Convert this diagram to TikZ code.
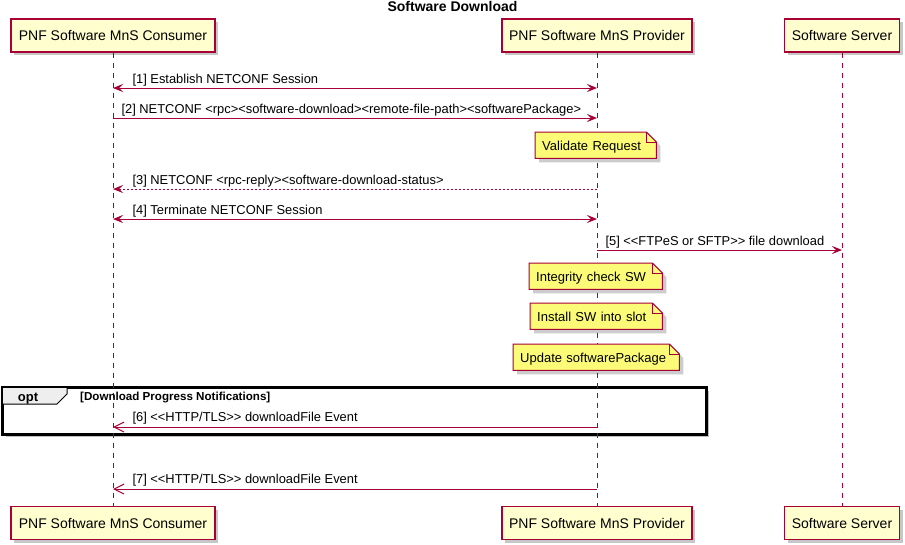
\documentclass[tikz,border=0pt]{standalone}
\usepackage{fontspec}
\newfontfamily\pf{Liberation Sans}
\usetikzlibrary{arrows.meta,shadows}
\definecolor{umlred}{HTML}{A80036}
\definecolor{partfill}{HTML}{FEFECE}
\definecolor{notefill}{HTML}{FBFB77}
\definecolor{tabfill}{HTML}{EEEEEE}
\pgfdeclarelayer{framel}
\pgfdeclarelayer{lifel}
\pgfdeclarelayer{notel}
\pgfsetlayers{framel,lifel,notel,main}
\newcommand{\notedecor}[1]{%
  \begin{pgfonlayer}{notel}
    \fill[black, opacity=0.2] ([xshift=4pt,yshift=-4pt]#1.north west) -- ([xshift=-6pt,yshift=-4pt]#1.north east) -- ([xshift=4pt,yshift=-14pt]#1.north east) -- ([xshift=4pt,yshift=-4pt]#1.south east) -- ([xshift=4pt,yshift=-4pt]#1.south west) -- cycle;
    \filldraw[notepath] (#1.north west) -- ([xshift=-10pt]#1.north east) -- ([yshift=-10pt]#1.north east) -- (#1.south east) -- (#1.south west) -- cycle;
    \draw[notepath, fill=none] ([xshift=-10pt]#1.north east) |- ([yshift=-10pt]#1.north east);
  \end{pgfonlayer}}
\begin{document}
\begin{tikzpicture}[x=1pt, y=-1pt,
  participant/.style={draw=umlred, line width=1.2pt, fill=partfill, inner sep=0pt, minimum height=33pt,
    font=\pf\fontsize{14}{16}\selectfont, text height=10.5pt, text depth=0pt,
    drop shadow={shadow xshift=3pt, shadow yshift=-3pt, fill=black, opacity=0.22}},
  lifeline/.style={draw=umlred, line width=1pt, dash pattern=on 5pt off 5pt},
  umlfill/.tip={Stealth[length=10pt,width=8pt,inset=4pt]},
  umlopen/.tip={Straight Barb[length=10pt,width=10pt]},
  msg/.style={draw=umlred, line width=1pt},
  sync/.style={msg, -umlfill},
  both/.style={msg, umlfill-umlfill},
  reply/.style={msg, dash pattern=on 2pt off 2pt, -umlfill},
  async/.style={msg, -umlopen},
  lbl/.style={anchor=base west, inner sep=0pt, font=\pf\fontsize{12.9}{15}\selectfont},
  notebox/.style={inner xsep=7pt, inner ysep=0pt, minimum height=26pt, align=left, text height=10pt, text depth=0pt,
    font=\pf\fontsize{13}{15}\selectfont, anchor=north west},
  notepath/.style={draw=umlred, line width=1pt, fill=notefill},
  framebox/.style={draw=black, line width=2pt, fill=white, inner sep=0pt, anchor=north west,
    drop shadow={shadow xshift=3pt, shadow yshift=-3pt, fill=black, opacity=0.25}},
  frameline/.style={draw=black, line width=2pt}
]
\useasboundingbox (0,0) rectangle (905,544);

% title
\node[font=\pf\bfseries\fontsize{14}{16}\selectfont, anchor=base, inner sep=0pt] (title) at (452.5,11) {Software Download};

% participants
\node[participant, minimum width=204pt] (ctop) at (113,35.5) {PNF Software MnS Consumer};
\node[participant, minimum width=190pt] (ptop) at (597,35.5) {PNF Software MnS Provider};
\node[participant, minimum width=115pt] (stop) at (842,35.5) {Software Server};
\node[participant, minimum width=204pt] (cbot) at (113,523) {PNF Software MnS Consumer};
\node[participant, minimum width=190pt] (pbot) at (597,523) {PNF Software MnS Provider};
\node[participant, minimum width=115pt] (sbot) at (842,523) {Software Server};

% opt frame
\begin{pgfonlayer}{framel}
\node[framebox, minimum width=703pt, minimum height=46pt] (opt) at (2,387) {};
\filldraw[fill=tabfill, draw=black, line width=1pt] (opt.north west) -- ++(65,0) -- ++(0,7) -- ++(-10,10) -- (opt.north west |- 0,404) -- cycle;
\draw[frameline] (opt.north west) rectangle (opt.south east);
\end{pgfonlayer}
\node[font=\pf\bfseries\fontsize{13}{15}\selectfont, anchor=base, inner sep=0pt] (optlbl) at (28,401) {opt};
\node[font=\pf\bfseries\fontsize{11.6}{13}\selectfont, anchor=base west, inner sep=0pt] (optcond) at (80,400) {[Download Progress Notifications]};

% lifelines
\begin{pgfonlayer}{lifel}
\draw[lifeline] (ctop.south) -- (cbot.north);
\draw[lifeline] (ptop.south) -- (pbot.north);
\draw[lifeline] (stop.south) -- (sbot.north);
\end{pgfonlayer}

% messages
\draw[both] (ctop |- 0,88) -- (ptop |- 0,88)
  node[lbl, at start, xshift=19pt, yshift=5pt] {[1] Establish NETCONF Session};
\draw[sync] (ctop |- 0,118) -- (ptop |- 0,118)
  node[lbl, at start, xshift=8pt, yshift=5pt] {[2] NETCONF <rpc><software-download><remote-file-path><softwarePackage>};
\draw[reply] (ptop |- 0,189) -- (ctop |- 0,189)
  node[lbl, at end, xshift=19pt, yshift=5pt] {[3] NETCONF <rpc-reply><software-download-status>};
\draw[both] (ctop |- 0,219) -- (ptop |- 0,219)
  node[lbl, at start, xshift=19pt, yshift=5pt] {[4] Terminate NETCONF Session};
\draw[sync] (ptop |- 0,250) -- (stop |- 0,250)
  node[lbl, at start, xshift=8pt, yshift=5pt] {[5] <<FTPeS or SFTP>> file download};
\draw[async] (ptop |- 0,427) -- (ctop |- 0,427)
  node[lbl, at end, xshift=19pt, yshift=5.5pt] {[6] <<HTTP/TLS>> downloadFile Event};
\draw[async] (ptop |- 0,489) -- (ctop |- 0,489)
  node[lbl, at end, xshift=19pt, yshift=5.5pt] {[7] <<HTTP/TLS>> downloadFile Event};

% notes
\node[notebox, text width=107pt] (n1) at (535,132) {Validate Request};
\notedecor{n1}
\node[notebox, text width=119pt] (n2) at (529,263) {Integrity check SW};
\notedecor{n2}
\node[notebox, text width=118pt] (n3) at (530,303) {Install SW into slot};
\notedecor{n3}
\node[notebox, text width=152pt] (n4) at (513,344) {Update softwarePackage};
\notedecor{n4}
\end{tikzpicture}
\end{document}
